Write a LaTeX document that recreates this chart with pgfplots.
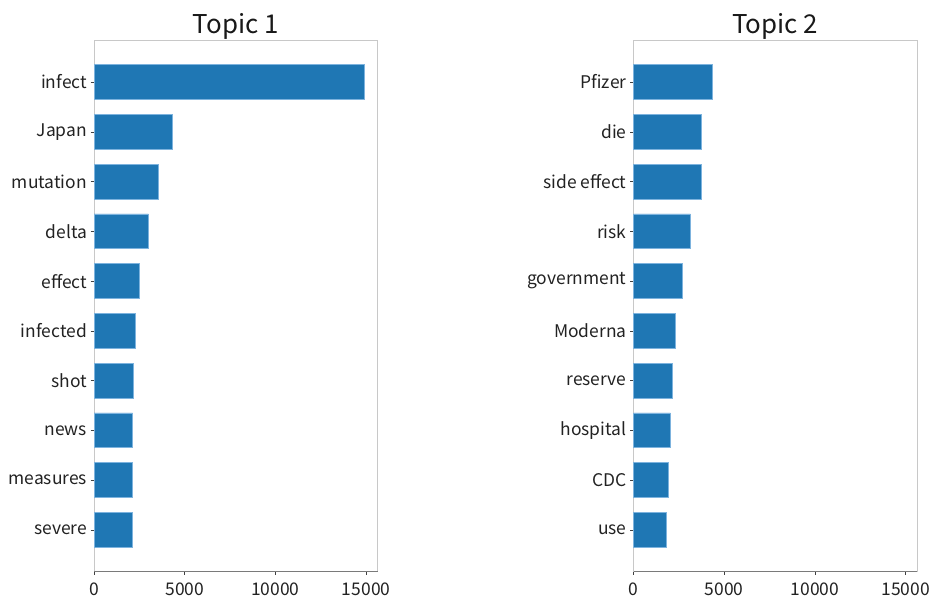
\documentclass[border=0pt]{standalone}
\usepackage{fontspec}
\setmainfont{Noto Sans CJK JP}
\usepackage{pgfplots}
\pgfplotsset{compat=1.18}
\usepackage{pgfplotstable}

\definecolor{barblue}{HTML}{1F77B4}
\definecolor{baredge}{HTML}{7DB3DE}
\definecolor{spinelight}{HTML}{C8C8C8}
\definecolor{spinedark}{HTML}{7A7A7A}
\definecolor{txt}{HTML}{222222}

% values, bottom row first (y = 0 is the lowest bar)
\pgfplotstableread{
y  v
0  2090
1  2090
2  2130
3  2170
4  2280
5  2480
6  2990
7  3560
8  4330
9  14880
}\topicone

\pgfplotstableread{
y  v
0  1810
1  1940
2  2030
3  2140
4  2330
5  2710
6  3130
7  3720
8  3750
9  4340
}\topictwo

\pgfplotsset{
  topic/.style={
    scale only axis,
    width=283.5bp, height=531bp,
    anchor=south west,
    xbar, bar width=0.7,
    xmin=0, xmax=15624,
    ymin=-0.835, ymax=9.835,
    ytick={0,...,9},
    xtick={0,5000,10000,15000},
    scaled x ticks=false,
    xticklabel style={/pgf/number format/fixed, /pgf/number format/1000 sep={}, yshift=-4.5bp},
    /pgf/number format/assume math mode=true,
    tick label style={font=\fontsize{17.5}{20}\selectfont, text=txt},
    tick align=outside,
    major tick length=3.5bp,
    tick style={color=black!75, line width=0.6bp},
    xtick pos=left, ytick pos=left,
    axis line style={color=spinelight, line width=0.8bp},
    title style={anchor=base, yshift=1bp,
                 font=\fontsize{26}{30}\selectfont, text=black!90},
    clip=false,
  },
  topicbar/.style={fill=barblue, draw=baredge, line width=0.8bp},
}

\begin{document}
\begin{tikzpicture}[x=1bp, y=1bp]
\useasboundingbox (0,0) rectangle (932,596);

\begin{axis}[topic, at={(94bp,24.5bp)}, title={Topic 1},
  yticklabels={severe,measures,news,shot,infected,effect,delta,mutation,Japan,infect}]
\addplot[topicbar] table[x=v, y=y] {\topicone};
\draw[spinedark, line width=0.8bp] (rel axis cs:0,0) -- (rel axis cs:1,0);
\end{axis}

\begin{axis}[topic, at={(633.5bp,24.5bp)}, title={Topic 2},
  yticklabels={use,CDC,hospital,reserve,Moderna,government,risk,side effect,die,Pfizer}]
\addplot[topicbar] table[x=v, y=y] {\topictwo};
\draw[spinedark, line width=0.8bp] (rel axis cs:0,0) -- (rel axis cs:1,0);
\end{axis}
\end{tikzpicture}
\end{document}
